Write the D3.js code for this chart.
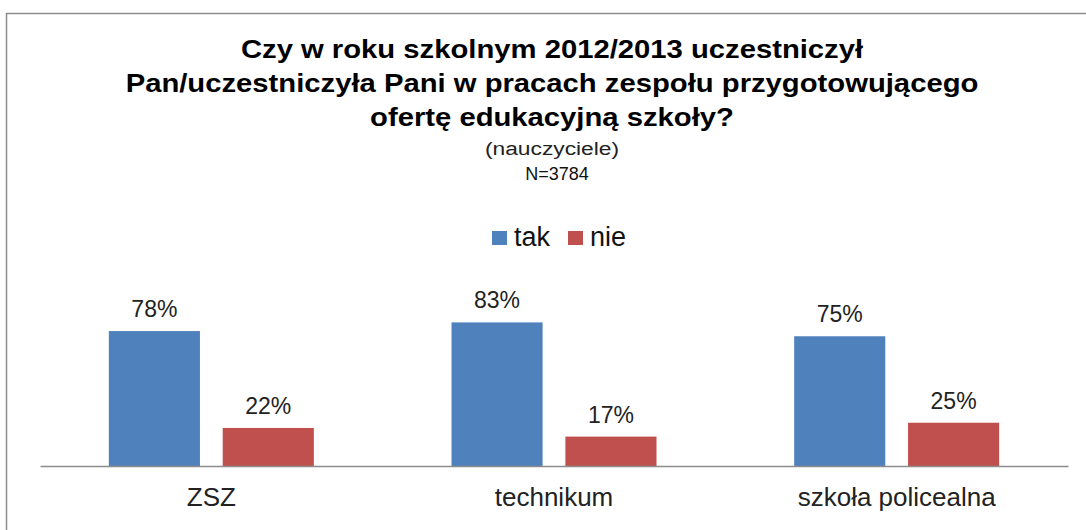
<!DOCTYPE html>
<html>
<head>
<meta charset="utf-8">
<script src="https://cdn.jsdelivr.net/npm/d3@7"></script>
<style>
  body { margin: 0; background: #fff; }
  text { font-family: "Liberation Sans", Arial, sans-serif; }
</style>
</head>
<body>
<div id="chart"></div>
<script>
// chart data
const categories = ['ZSZ', 'technikum', 'szkoła policealna'];
const seriesNames = ['tak', 'nie'];
const takValues = [78, 83, 75];
const nieValues = [22, 17, 25];
const titleLines = [
    'Czy w roku szkolnym 2012/2013 uczestniczył',
    'Pan/uczestniczyła Pani w pracach zespołu przygotowującego',
    'ofertę edukacyjną szkoły?'
];
const subtitle = '(nauczyciele)';
const sampleNote = 'N=3784';

const width = 1086;
const height = 530;
const colors = { tak: '#4F81BD', nie: '#C0504D' };

const svg = d3.select('#chart')
    .append('svg')
    .attr('width', width)
    .attr('height', height);

// outer chart frame (right and bottom edges are cropped off)
svg.append('rect')
    .attr('x', 6.5)
    .attr('y', 13.5)
    .attr('width', width + 20)
    .attr('height', height + 20)
    .attr('fill', 'none')
    .attr('stroke', '#8c8c8c')
    .attr('stroke-width', 1.5);

const cx = 552;

// title: the source font is a bit wider than Liberation, so stretch it slightly
svg.selectAll('.title')
    .data(titleLines)
    .enter()
    .append('text')
    .attr('class', 'title')
    .attr('transform', (d, i) => `translate(${cx}, ${58 + i * 34}) scale(1.17, 1)`)
    .attr('text-anchor', 'middle')
    .style('font-size', '25px')
    .style('font-weight', 'bold')
    .attr('fill', '#000')
    .text(d => d);

svg.append('text')
    .attr('transform', `translate(${cx}, 155) scale(1.2, 1)`)
    .attr('text-anchor', 'middle')
    .style('font-size', '19px')
    .attr('fill', '#222')
    .text(subtitle);

svg.append('text')
    .attr('x', cx + 5)
    .attr('y', 180)
    .attr('text-anchor', 'middle')
    .style('font-size', '18px')
    .attr('fill', '#111')
    .text(sampleNote);

// legend
const legendItems = [
    { name: seriesNames[0], x: 492 },
    { name: seriesNames[1], x: 568 }
];
const legend = svg.selectAll('.legend')
    .data(legendItems)
    .enter()
    .append('g')
    .attr('class', 'legend')
    .attr('transform', d => `translate(${d.x}, 231)`);
legend.append('rect')
    .attr('width', 15)
    .attr('height', 14)
    .attr('fill', d => colors[d.name]);
legend.append('text')
    .attr('x', 22)
    .attr('y', 15)
    .style('font-size', '27px')
    .attr('fill', '#111')
    .text(d => d.name);

// scales
const margin = { left: 40, right: 18 };
const baseY = 466;

const x = d3.scaleBand()
    .domain(categories)
    .range([margin.left, width - margin.right]);

const xInner = d3.scaleBand()
    .domain(seriesNames)
    .range([x.bandwidth() / 2 - 102.5, x.bandwidth() / 2 + 102.5])
    .paddingInner(0.2);

const y = d3.scaleLinear()
    .domain([0, 100])
    .range([baseY, baseY - 173]);

const rows = categories.map((c, i) => ({
    category: c,
    values: [
        { series: 'tak', value: takValues[i] },
        { series: 'nie', value: nieValues[i] }
    ]
}));

const groups = svg.selectAll('.group')
    .data(rows)
    .enter()
    .append('g')
    .attr('class', 'group')
    .attr('transform', d => `translate(${x(d.category)}, 0)`);

groups.selectAll('rect')
    .data(d => d.values)
    .enter()
    .append('rect')
    .attr('x', d => xInner(d.series))
    .attr('y', d => y(d.value))
    .attr('width', xInner.bandwidth())
    .attr('height', d => baseY - y(d.value))
    .attr('fill', d => colors[d.series]);

groups.selectAll('.label')
    .data(d => d.values)
    .enter()
    .append('text')
    .attr('class', 'label')
    .attr('x', d => xInner(d.series) + xInner.bandwidth() / 2)
    .attr('y', d => y(d.value) - 14)
    .attr('text-anchor', 'middle')
    .style('font-size', '23px')
    .attr('fill', '#222')
    .text(d => d.value + '%');

// category axis
const xAxis = d3.axisBottom(x).tickSize(0).tickPadding(22);
const axisG = svg.append('g')
    .attr('transform', `translate(0, ${baseY})`)
    .call(xAxis);
axisG.select('.domain')
    .attr('stroke', '#8c8c8c')
    .attr('stroke-width', 1.5);
axisG.selectAll('text')
    .style('font-size', '26px')
    .style('font-family', '"Liberation Sans", Arial, sans-serif')
    .attr('fill', '#222');
</script>
</body>
</html>
